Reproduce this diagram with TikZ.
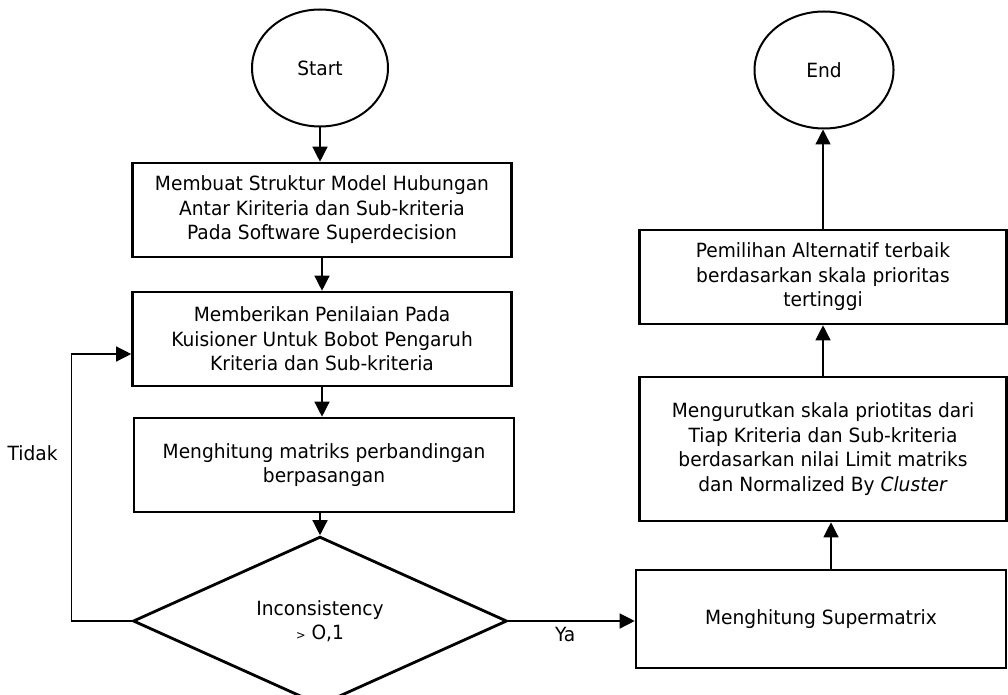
\documentclass[tikz,border=0pt]{standalone}
\usepackage{fontspec}
\setmainfont[FakeStretch=0.95]{DejaVu Sans}
\usetikzlibrary{shapes.geometric, arrows.meta}

\begin{document}
\begin{tikzpicture}[x=1pt, y=-1pt,
    font=\fontsize{19.6}{24.5}\selectfont,
    proses/.style={rectangle, draw=black, line width=2.6pt, align=center, minimum height=94pt, inner sep=0pt},
    terminal/.style={ellipse, draw=black, line width=2pt, minimum width=136pt, minimum height=117pt, inner sep=0pt},
    panah/.style={-{Triangle[length=15pt, width=15pt]}, line width=1.3pt}]
  \useasboundingbox (0,0) rectangle (1008,695);

  % kolom kiri
  \node[terminal] (start) at (320,68) {Start};
  \node[proses, minimum width=379pt] (struktur) at (322,210)
    {Membuat Struktur Model Hubungan\\Antar Kiriteria dan Sub-kriteria\\Pada Software Superdecision};
  \node[proses, minimum width=379pt] (nilai) at (322,339)
    {Memberikan Penilaian Pada\\Kuisioner Untuk Bobot Pengaruh\\Kriteria dan Sub-kriteria};
  \node[proses, minimum width=380pt] (matriks) at (324,465)
    {Menghitung matriks perbandingan\\berpasangan};
  \node[diamond, draw=black, line width=2.8pt, align=center, inner sep=0pt,
        minimum width=374pt, minimum height=144pt] (cek) at (320,621)
    {Inconsistency\\{\fontsize{12}{14}\selectfont >} O,1};

  % kolom kanan
  \node[terminal, minimum width=139pt] (end) at (824,70) {End};
  \node[proses, minimum width=367pt] (pilih) at (823,277)
    {Pemilihan Alternatif terbaik\\berdasarkan skala prioritas\\tertinggi};
  \node[proses, minimum width=367pt, minimum height=144pt] (urut) at (823,449)
    {Mengurutkan skala priotitas dari\\Tiap Kriteria dan Sub-kriteria\\berdasarkan nilai Limit matriks\\dan Normalized By \textit{Cluster}};
  \node[proses, minimum width=370pt, minimum height=98pt] (super) at (821,619)
    {Menghitung Supermatrix};

  % panah
  \draw[panah] (start.south) -- (start.south |- struktur.north);
  \draw[panah] (struktur.south) -- (struktur.south |- nilai.north);
  \draw[panah] (nilai.south) -- (nilai.south |- matriks.north);
  \draw[panah] (matriks.south -| cek.north) -- (cek.north);
  \draw[panah] (cek.west) -- ++(-60,0) |- ([yshift=-15pt]nilai.west)
    node[pos=0.315, left=10pt] (tidak) {Tidak};
  \draw[panah] (cek.east) -- (cek.east -| super.west)
    node[pos=0.45, below=2pt] (ya) {Ya};
  \draw[panah] ([xshift=10pt]super.north) -- ([xshift=10pt]super.north |- urut.south);
  \draw[panah] (urut.north) -- (pilih.south);
  \draw[panah] (pilih.north) -- (pilih.north |- end.south);
\end{tikzpicture}
\end{document}
